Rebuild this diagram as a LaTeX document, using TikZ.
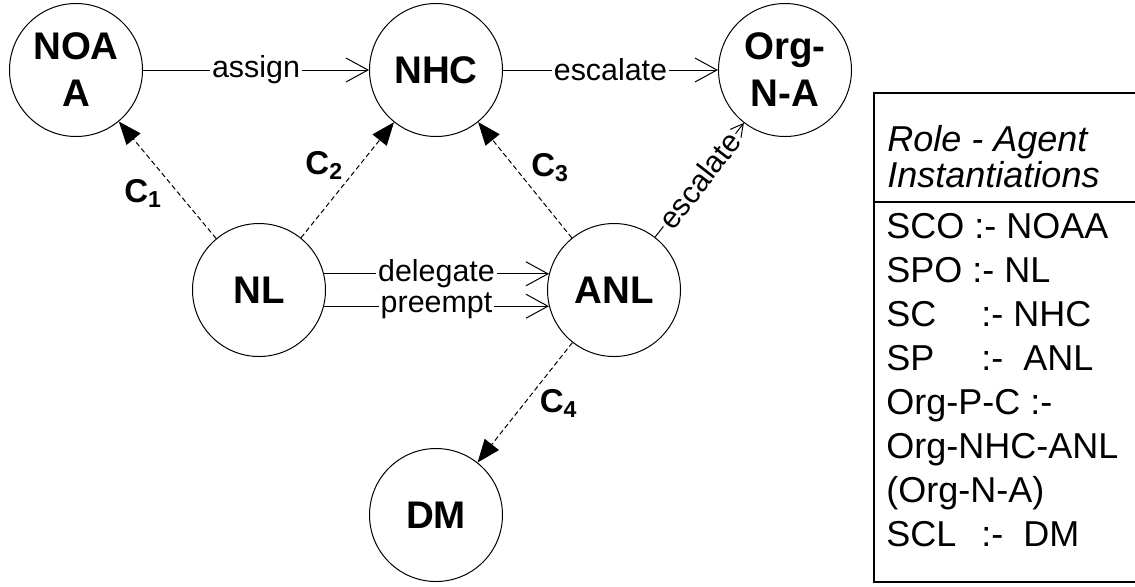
\documentclass[tikz,border=0pt]{standalone}
\usepackage{fontspec}
\setmainfont{Liberation Sans}
\usetikzlibrary{positioning,arrows.meta}

\begin{document}
\begin{tikzpicture}[x=0.5pt, y=-0.5pt, on grid,
  agent/.style={draw, circle, minimum size=66.5pt, inner sep=0pt, line width=0.5pt, align=center, font=\fontsize{19.25}{23.5}\selectfont\bfseries},
  act/.style={-{Straight Barb[length=11pt,width=12pt]}, line width=0.5pt},
  actlabel/.style={fill=white, inner sep=1pt, font=\fontsize{15.2}{18}\selectfont},
  dep/.style={-{Triangle[length=11.5pt,width=9pt]}, dash pattern=on 2.5pt off 1.5pt, line width=0.5pt},
  deplabel/.style={inner sep=1pt, font=\fontsize{16.5}{18}\selectfont\bfseries}]
  \useasboundingbox (0,0) rectangle (1135,586);

  % Nodes
  \node[agent] (noaa) at (76,70) {NOA\\A};
  \node[agent, right=180pt of noaa] (nhc) {NHC};
  \node[agent, right=174.5pt of nhc] (org) {Org-\\N-A};
  \node[agent, below right=110pt and 91.5pt of noaa] (nl) {NL};
  \node[agent, right=177.5pt of nl] (anl) {ANL};
  \node[agent, below left=112.5pt and 89pt of anl] (dm) {DM};

  % Interactions
  \draw[act] (noaa) -- node[actlabel] (assign) {assign} (nhc);
  \draw[act] (nhc) -- node[actlabel] (esc1) {escalate} (org);
  \draw[act] (anl) -- node[actlabel, sloped] (esc2) {escalate} (org);
  \draw[act] (nl.14) -- node[actlabel] (deleg) {delegate} (anl.166);
  \draw[act] (nl.-14) -- node[actlabel] (preempt) {preempt} (anl.194);

  % Commitments
  \draw[dep] (nl) -- node[deplabel, pos=0.53, anchor=north east] (c1) {C\textsubscript{1}} (noaa);
  \draw[dep] (nl) -- node[deplabel, pos=0.48, anchor=south east] (c2) {C\textsubscript{2}} (nhc);
  \draw[dep] (anl) -- node[deplabel, pos=0.46, anchor=south west] (c3) {C\textsubscript{3}} (nhc);
  \draw[dep] (anl) -- node[deplabel, pos=0.37, anchor=north west] (c4) {C\textsubscript{4}} (dm);

  % Role - agent table
  \draw[line width=1pt] (1135,93) -- (874,93) -- (874,582) -- (1135,582);
  \draw[line width=0.8pt] (874,202) -- (1135,202);
  \node[anchor=base west, align=left, inner sep=0pt, font=\fontsize{18}{18}\selectfont\itshape] (head) at (887,187) {Role - Agent\\Instantiations};
  \node[anchor=base west, align=left, inner sep=0pt, font=\fontsize{18}{22}\selectfont] (roles) at (886,546)
    {SCO :- NOAA\\SPO :- NL\\\makebox[47.5pt][l]{SC}:- NHC\\\makebox[47.5pt][l]{SP}:-\ \ ANL\\Org-P-C :-\\Org-NHC-ANL\\(Org-N-A)\\\makebox[47.5pt][l]{SCL}:-\ \ DM};
\end{tikzpicture}
\end{document}
